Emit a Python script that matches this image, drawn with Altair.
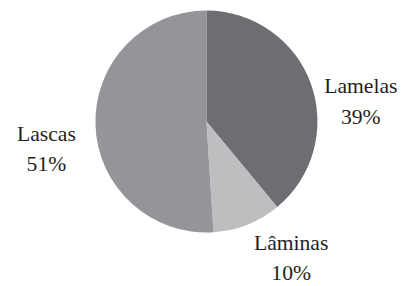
import altair as alt
import pandas as pd

categories = ["Lamelas", "Lâminas", "Lascas"]
values = [39, 10, 51]
colors = ["#6d6e71", "#bcbec0", "#939598"]
order = [0, 1, 2]

df = pd.DataFrame({
    "cat": categories,
    "val": values,
    "ord": order,
    "label": [f"{c}\n{v}%" for c, v in zip(categories, values)],
})

theta_scale = alt.Scale(domain=[0, 100], range=[0, 6.283185307179586])
cx, cy = 202, 113

base = alt.Chart(df).transform_window(
    cum="sum(val)", sort=[alt.SortField("ord")]
).transform_calculate(
    start="datum.cum - datum.val", mid="datum.cum - datum.val / 2"
)

pie = base.mark_arc(outerRadius=113, strokeWidth=0).encode(
    theta=alt.Theta("start:Q", scale=theta_scale),
    theta2="cum:Q",
    x=alt.value(cx), y=alt.value(cy),
    color=alt.Color("cat:N", scale=alt.Scale(domain=categories, range=colors), legend=None),
)

offsets = {"Lamelas": (16, 15), "Lâminas": (31, -16), "Lascas": (-13, 8)}
texts = []
for c in categories:
    dx, dy = offsets[c]
    t = base.transform_filter(alt.datum.cat == c).mark_text(
        radius=150, font="Liberation Serif", fontSize=22, lineBreak="\n",
        lineHeight=31, color="#231f20", dx=dx, dy=dy, baseline="middle", align="center"
    ).encode(theta=alt.Theta("mid:Q", scale=theta_scale), text="label:N",
             x=alt.value(cx), y=alt.value(cy))
    texts.append(t)

chart = alt.layer(pie, *texts).properties(
    width=380, height=226, padding=0, background="white"
).configure_view(strokeWidth=0, stroke="transparent")

chart.save("out.html", embed_options={"renderer": "svg", "actions": False})
